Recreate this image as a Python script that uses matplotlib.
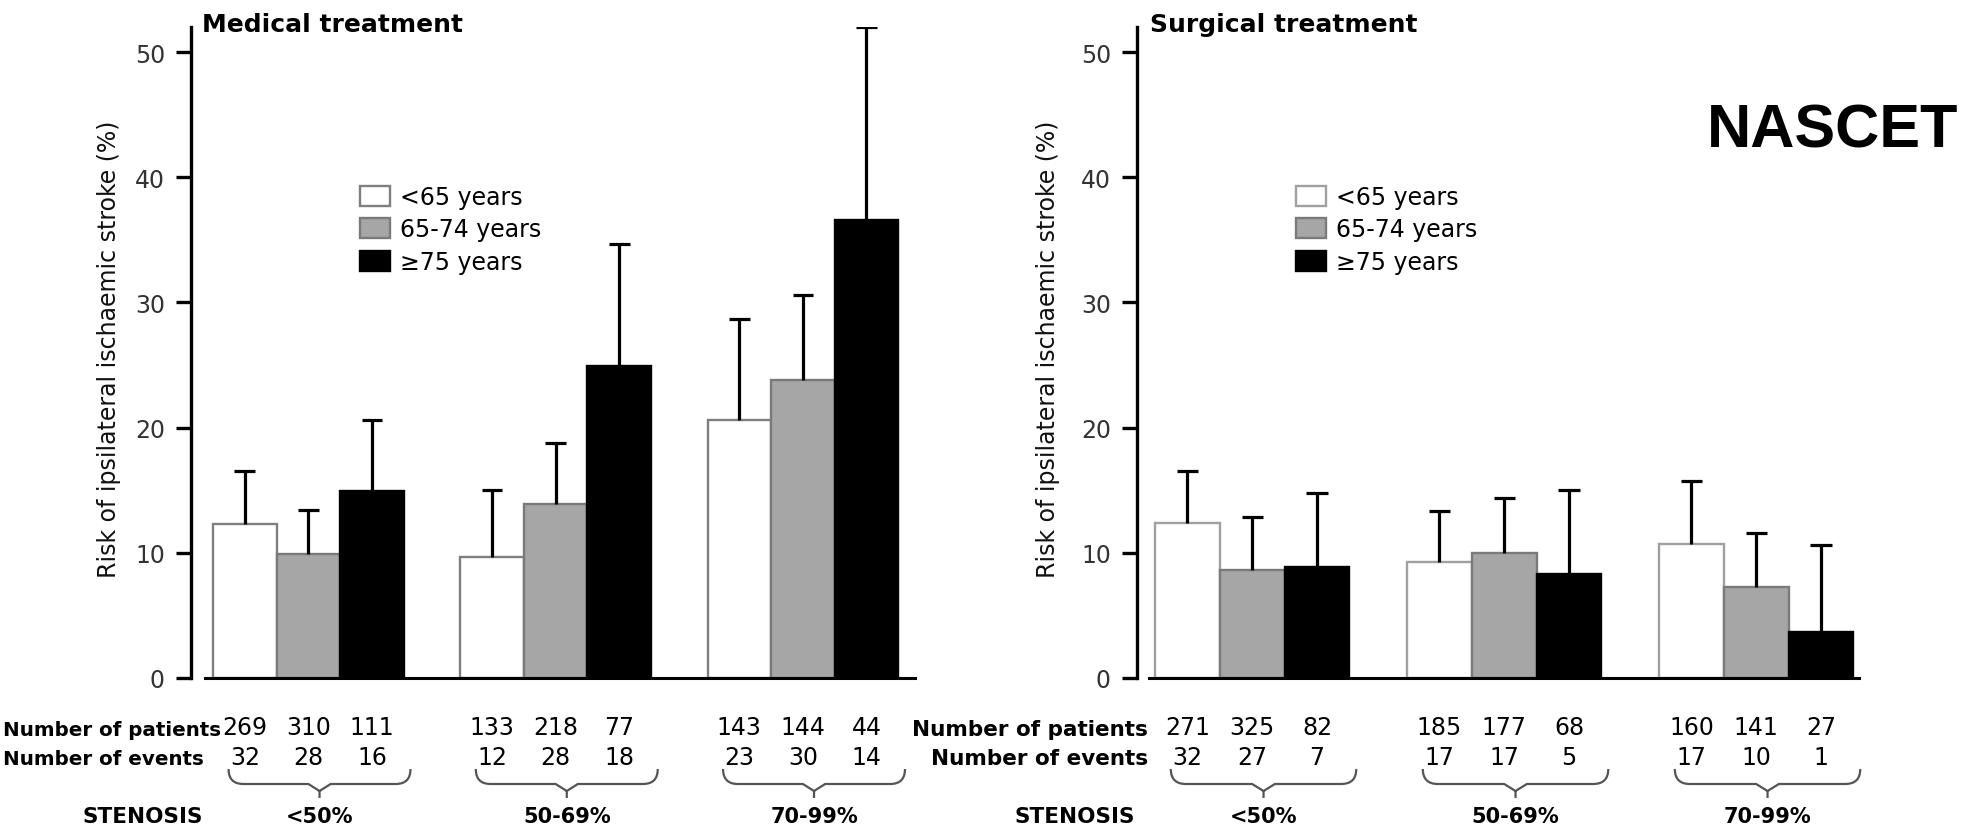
import matplotlib
matplotlib.use("Agg")
import matplotlib.pyplot as plt
from matplotlib.path import Path
from matplotlib.patches import PathPatch
from matplotlib import transforms

plt.rcParams['font.family'] = ['DejaVu Sans']

# ---- data ----
stenosis = ['<50%', '50-69%', '70-99%']
age_groups = ['<65 years', '65-74 years', '\u226575 years']

# rows: age group, columns: stenosis class
med_risk = [[12.3, 9.7, 20.6], [9.9, 13.9, 23.8], [14.9, 24.9, 36.6]]
med_upper = [[16.5, 15.0, 28.7], [13.4, 18.8, 30.6], [20.6, 34.7, 52.0]]
med_patients = [[269, 133, 143], [310, 218, 144], [111, 77, 44]]
med_events = [[32, 12, 23], [28, 28, 30], [16, 18, 14]]

surg_risk = [[12.4, 9.3, 10.7], [8.6, 10.0, 7.3], [8.9, 8.3, 3.7]]
surg_upper = [[16.5, 13.3, 15.7], [12.9, 14.4, 11.6], [14.8, 15.0, 10.6]]
surg_patients = [[271, 185, 160], [325, 177, 141], [82, 68, 27]]
surg_events = [[32, 17, 17], [27, 17, 10], [7, 5, 1]]

yticks = [0, 10, 20, 30, 40, 50]
ylabel = 'Risk of ipsilateral ischaemic stroke (%)'

W, H = 1975, 828
fig = plt.figure(figsize=(W / 100, H / 100), dpi=100)


def fx(px):
    return px / W


def fy(py):
    return 1 - py / H


face = ['white', '#a6a6a6', 'black']
bar_w = 0.257
offsets = [-bar_w, 0, bar_w]


def draw_panel(x0, x1, xlim, base_start, risk, upper, patients, events,
               title, title_x, white_edge, legend_x, ylabel_x,
               label_x, label_ha, label_size, sten_x):
    ax = fig.add_axes([fx(x0), fy(679), fx(x1) - fx(x0), fy(28) - fy(679)])
    ax.set_xlim(*xlim)
    ax.set_ylim(0, 52.0)
    edges = [white_edge, '#7a7a7a', 'black']
    groups = range(len(stenosis))
    bars = []
    for j in range(len(age_groups)):
        xs = [g + offsets[j] for g in groups]
        b = ax.bar(xs, risk[j], width=bar_w, color=face[j], edgecolor=edges[j],
                   linewidth=1.7, label=age_groups[j], zorder=2)
        bars.append(b)
        # one-sided (upper) error bars with a cap
        ax.vlines(xs, risk[j], upper[j], color='black', lw=2.3, zorder=3)
        ax.hlines(upper[j], [x - 0.042 for x in xs], [x + 0.042 for x in xs],
                  color='black', lw=2.3, zorder=3)

    for s in ['top', 'right']:
        ax.spines[s].set_visible(False)
    ax.spines['left'].set_linewidth(2.4)
    ax.spines['left'].set_bounds(0, 52.0)
    ax.spines['bottom'].set_linewidth(2.2)
    ax.spines['bottom'].set_bounds(base_start, xlim[1])
    ax.set_xticks([])
    ax.set_yticks(yticks)
    ax.tick_params(axis='y', length=10.8, width=2.4, pad=8, labelsize=17,
                   labelcolor='#333333')
    ax.set_ylabel(ylabel, fontsize=17, color='#111111')
    ax.yaxis.set_label_coords((ylabel_x - x0) / (x1 - x0), (679 - 349) / 651)

    fig.text(fx(title_x), fy(32), title, fontsize=18, fontweight='bold',
             ha='left', va='baseline')

    ax.legend(handles=bars, loc='upper left',
              bbox_to_anchor=(fx(legend_x), fy(186)), bbox_transform=fig.transFigure,
              frameon=False, borderpad=0, borderaxespad=0, fontsize=17,
              handlelength=1.27, handleheight=0.93, handletextpad=0.42,
              labelspacing=0.36)

    blend = transforms.blended_transform_factory(ax.transData, fig.transFigure)
    for j in range(len(age_groups)):
        for g in groups:
            ax.text(g + offsets[j], fy(735), str(patients[j][g]), transform=blend,
                    ha='center', va='baseline', fontsize=17)
            ax.text(g + offsets[j], fy(765), str(events[j][g]), transform=blend,
                    ha='center', va='baseline', fontsize=17)

    fig.text(fx(label_x), fy(736), 'Number of patients', fontsize=label_size,
             fontweight='bold', ha=label_ha, va='baseline')
    fig.text(fx(label_x), fy(765), 'Number of events', fontsize=label_size,
             fontweight='bold', ha=label_ha, va='baseline')
    fig.text(fx(sten_x), fy(823), 'STENOSIS', fontsize=15.5,
             fontweight='bold', ha='center', va='baseline')

    # curly braces under each group
    hw, r, v = 0.368, 0.06, 0.045
    yt, ym, yp, yp2 = fy(770), fy(785), fy(792), fy(799)
    for g in groups:
        c = g + 0.045
        verts = [(c - hw, yt), (c - hw, ym), (c - hw + r, ym), (c - v, ym),
                 (c, yp), (c + v, ym), (c + hw - r, ym), (c + hw, ym), (c + hw, yt),
                 (c, yp), (c, yp2)]
        codes = [Path.MOVETO, Path.CURVE3, Path.CURVE3, Path.LINETO,
                 Path.LINETO, Path.LINETO, Path.LINETO, Path.CURVE3, Path.CURVE3,
                 Path.MOVETO, Path.LINETO]
        ax.add_patch(PathPatch(Path(verts, codes), transform=blend, fill=False,
                               edgecolor='#555555', lw=1.6, clip_on=False))
        ax.text(c, fy(823), stenosis[g], transform=blend, ha='center',
                va='baseline', fontsize=15, fontweight='bold')
    return ax


draw_panel(191, 915, (-0.4748, 2.4534), -0.4182, med_risk, med_upper,
           med_patients, med_events, 'Medical treatment', 202, '#7f7f7f',
           360, 121, 3, 'left', 14.3, 143)
draw_panel(1137, 1859, (-0.4571, 2.4079), -0.4095, surg_risk, surg_upper,
           surg_patients, surg_events, 'Surgical treatment', 1150, '#a0a0a0',
           1296, 1060, 1148, 'right', 15.5, 1075)

fig.text(fx(1833), fy(148), 'NASCET', fontsize=44, fontweight='bold',
         family=['Liberation Sans', 'DejaVu Sans'], ha='center', va='baseline')

fig.savefig('out.png', dpi=100)
